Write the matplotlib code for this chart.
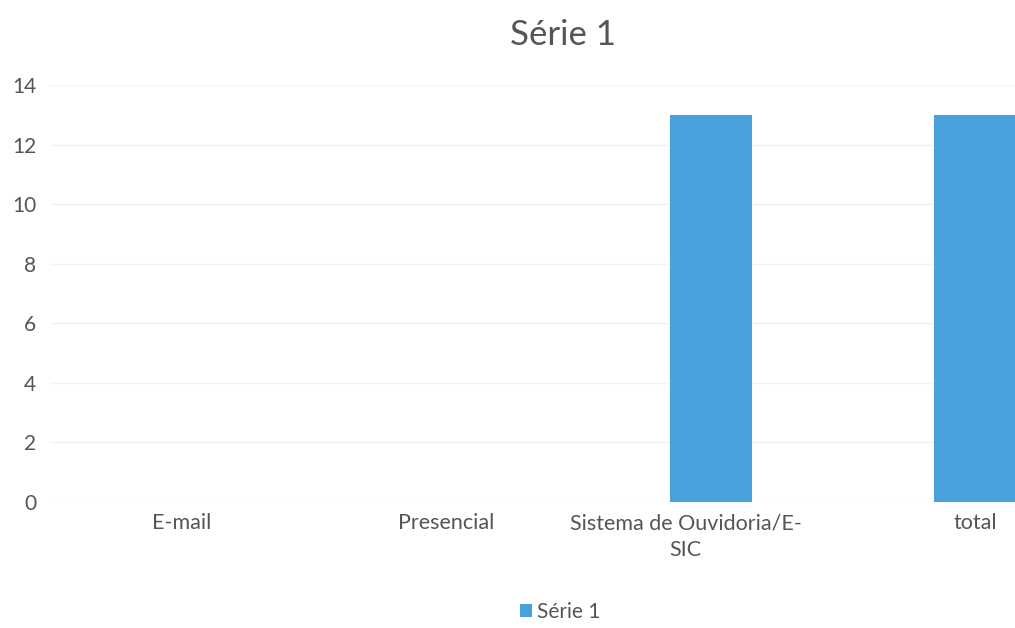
import numpy as np
import matplotlib.pyplot as plt
from matplotlib.transforms import ScaledTranslation

categories = ["E-mail", "Presencial", "Sistema de Ouvidoria/E-\nSIC", "total"]
values = [0, 0, 13, 13]
series_name = "Série 1"
yticks = [0, 2, 4, 6, 8, 10, 12, 14]

plt.rcParams['font.family'] = ['Lato', 'DejaVu Sans']

fig = plt.figure(figsize=(10.15, 6.28), dpi=100)
# plot area runs off the right edge of the picture (scan is cropped)
ax = fig.add_axes([50 / 1015, 1 - 502 / 628, 1057 / 1015, (502 - 85) / 628])

x = np.arange(len(categories))
ax.bar(x, values, width=0.31, color="#48a0dc", label=series_name, zorder=2)

ax.set_xlim(-0.5, len(categories) - 0.5)
ax.set_ylim(0, 14)
ax.set_yticks(yticks)
ax.set_xticks(x)
ax.set_xticklabels(categories, fontsize=15.5, color="#555555", linespacing=1.45)
ax.tick_params(axis="y", labelsize=15, labelcolor="#555555", length=0, pad=10)
ax.tick_params(axis="x", length=0, pad=8)
ax.grid(axis="y", color="#f2f2f2", linewidth=1, zorder=0)
for s in ax.spines.values():
    s.set_visible(False)

# wrapped label sits a little left of its bar in the original
lab = ax.get_xticklabels()[2]
lab.set_transform(lab.get_transform() + ScaledTranslation(-0.25, 0, fig.dpi_scale_trans))

fig.text(563 / 1015, 1 - 35 / 628, series_name, fontsize=25, color="#555555",
         ha="center", va="center")

fig.legend(loc="center", bbox_to_anchor=(560 / 1015, 1 - 612 / 628), frameon=False,
           fontsize=15, labelcolor="#555555", handlelength=0.6, handleheight=0.6,
           handletextpad=0.2)

fig.savefig("out.png", dpi=100)
